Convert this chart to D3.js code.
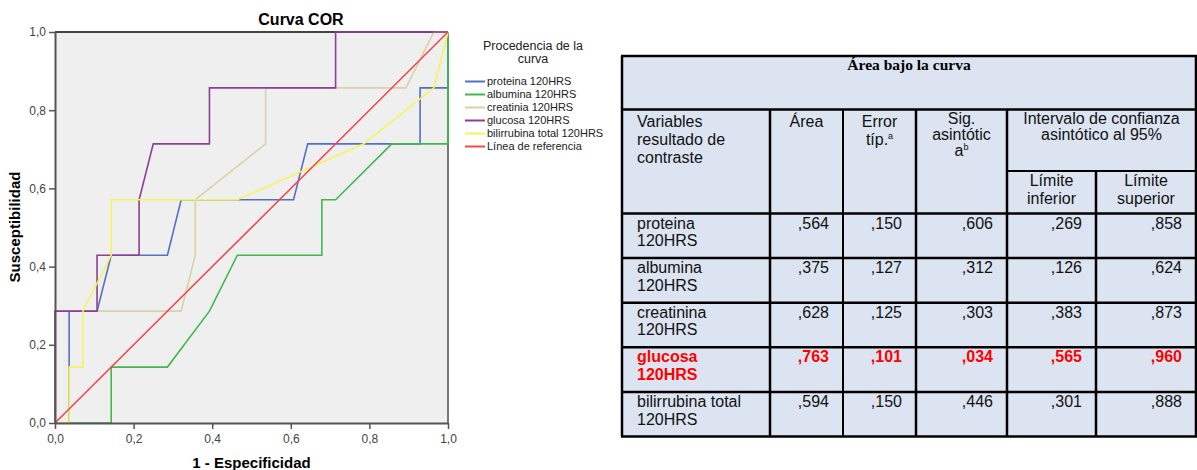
<!DOCTYPE html>
<html>
<head>
  <meta charset="utf-8">
  <script src="https://cdn.jsdelivr.net/npm/d3@7"></script>
  <style>
    body { margin: 0; background: #fff; }
    text { font-family: "Liberation Sans", Arial, sans-serif; }
  </style>
</head>
<body>
<div id="chart"></div>
<script>
  // ROC curves, points are [1 - especificidad, susceptibilidad]
  var seriesNames = ["proteina 120HRS", "albumina 120HRS", "creatinia 120HRS",
                     "glucosa 120HRS", "bilirrubina total 120HRS"];
  var seriesColors = ["#5470c6", "#41b94c", "#d8d2a6", "#8c3f94", "#f6f35c"];
  var refName = "Línea de referencia";
  var refColor = "#ef4a4f";

  var proteina = [[0, 0], [0.036, 0], [0.036, 0.286], [0.107, 0.286], [0.143, 0.429],
    [0.286, 0.429], [0.321, 0.571], [0.607, 0.571], [0.643, 0.714], [0.929, 0.714],
    [0.929, 0.857], [1, 0.857], [1, 1]];
  var albumina = [[0, 0], [0.143, 0], [0.143, 0.143], [0.286, 0.143], [0.393, 0.286],
    [0.464, 0.429], [0.679, 0.429], [0.679, 0.571], [0.714, 0.571], [0.857, 0.714],
    [1, 0.714], [1, 1]];
  var creatinina = [[0, 0], [0, 0.286], [0.321, 0.286], [0.357, 0.429], [0.357, 0.571],
    [0.536, 0.714], [0.536, 0.857], [0.893, 0.857], [0.964, 1], [1, 1]];
  var glucosa = [[0, 0], [0, 0.286], [0.107, 0.286], [0.107, 0.429], [0.214, 0.429],
    [0.214, 0.571], [0.25, 0.714], [0.393, 0.714], [0.393, 0.857], [0.714, 0.857],
    [0.714, 1], [1, 1]];
  var bilirrubina = [[0, 0], [0.036, 0], [0.036, 0.143], [0.071, 0.143], [0.071, 0.286],
    [0.143, 0.429], [0.143, 0.571], [0.464, 0.571], [0.786, 0.714], [0.964, 0.857], [1, 1]];
  var referencia = [[0, 0], [1, 1]];

  var tickValues = [0, 0.2, 0.4, 0.6, 0.8, 1];

  // table "Área bajo la curva"
  var tableRows = ["proteina 120HRS", "albumina 120HRS", "creatinina 120HRS",
                   "glucosa 120HRS", "bilirrubina total 120HRS"];
  var area = [",564", ",375", ",628", ",763", ",594"];
  var errorTip = [",150", ",127", ",125", ",101", ",150"];
  var sigAsint = [",606", ",312", ",303", ",034", ",446"];
  var limInf = [",269", ",126", ",383", ",565", ",301"];
  var limSup = [",858", ",624", ",873", ",960", ",888"];
  var highlightRow = 3;

  var W = 1197, H = 470;
  var svg = d3.select("#chart").append("svg")
      .attr("width", W)
      .attr("height", H);

  // ---------- chart ----------
  var x = d3.scaleLinear().domain([0, 1]).range([55, 448]);
  var y = d3.scaleLinear().domain([0, 1]).range([423, 32]);
  var fmt = function(d) { return d3.format(".1f")(d).replace(".", ","); };

  svg.append("rect")
      .attr("x", x(0)).attr("y", y(1))
      .attr("width", x(1) - x(0)).attr("height", y(0) - y(1))
      .attr("fill", "#efefef");

  // frame top / right
  svg.append("line")
      .attr("x1", x(0)).attr("x2", x(1)).attr("y1", y(1)).attr("y2", y(1))
      .attr("stroke", "#444").attr("stroke-width", 2);
  svg.append("line")
      .attr("x1", x(1)).attr("x2", x(1)).attr("y1", y(1)).attr("y2", y(0))
      .attr("stroke", "#777").attr("stroke-width", 2);

  var line = d3.line().x(function(d) { return x(d[0]); }).y(function(d) { return y(d[1]); });
  var curves = [proteina, albumina, creatinina, glucosa, bilirrubina];

  svg.selectAll("path.curve").data(curves)
    .enter().append("path")
      .attr("class", "curve")
      .attr("d", line)
      .attr("fill", "none")
      .attr("stroke", function(d, i) { return seriesColors[i]; })
      .attr("stroke-width", 1.6);

  svg.append("path")
      .attr("d", line(referencia))
      .attr("fill", "none")
      .attr("stroke", refColor)
      .attr("stroke-width", 1.6);

  var xAxis = svg.append("g")
      .attr("transform", "translate(0," + y(0) + ")")
      .call(d3.axisBottom(x).tickValues(tickValues).tickFormat(fmt).tickSize(6).tickSizeOuter(0));
  var yAxis = svg.append("g")
      .attr("transform", "translate(" + x(0) + ",0)")
      .call(d3.axisLeft(y).tickValues(tickValues).tickFormat(fmt).tickSize(6).tickSizeOuter(0));

  [xAxis, yAxis].forEach(function(a) {
    a.select(".domain").attr("stroke", "#555").attr("stroke-width", 2);
    a.selectAll(".tick line").attr("stroke", "#555").attr("stroke-width", 1.5);
    a.selectAll(".tick text")
        .attr("fill", "#444")
        .style("font-size", "12px")
        .style("font-family", "'Liberation Sans', Arial, sans-serif");
  });
  xAxis.selectAll(".tick text").attr("dy", "0.9em");

  svg.append("text")
      .attr("x", 301).attr("y", 25)
      .attr("text-anchor", "middle")
      .style("font-weight", "bold").style("font-size", "16px")
      .text("Curva COR");

  svg.append("text")
      .attr("x", (x(0) + x(1)) / 2).attr("y", 468)
      .attr("text-anchor", "middle")
      .style("font-weight", "bold").style("font-size", "15px")
      .text("1 - Especificidad");

  svg.append("text")
      .attr("transform", "translate(20,227) rotate(-90)")
      .attr("text-anchor", "middle")
      .style("font-weight", "bold").style("font-size", "15px")
      .text("Susceptibilidad");

  // legend
  var legend = svg.append("g");
  legend.selectAll("text.ltitle").data(["Procedencia de la", "curva"])
    .enter().append("text")
      .attr("x", 533)
      .attr("y", function(d, i) { return 50 + i * 13; })
      .attr("text-anchor", "middle")
      .attr("fill", "#222")
      .style("font-size", "12.5px")
      .text(function(d) { return d; });

  var legendItems = seriesNames.map(function(n, i) { return { name: n, color: seriesColors[i] }; })
      .concat([{ name: refName, color: refColor }]);
  var li = legend.selectAll("g.item").data(legendItems)
    .enter().append("g")
      .attr("transform", function(d, i) { return "translate(465," + (81.5 + i * 13) + ")"; });
  li.append("line")
      .attr("x1", 0).attr("x2", 20)
      .attr("stroke", function(d) { return d.color; })
      .attr("stroke-width", 2);
  li.append("text")
      .attr("x", 22).attr("dy", "0.35em")
      .attr("fill", "#222")
      .style("font-size", "11px")
      .text(function(d) { return d.name; });

  // ---------- table ----------
  var colX = [622, 770, 843, 916, 1007, 1096, 1196];
  var mid = function(a, b) { return (colX[a] + colX[b]) / 2; };
  var tTop = 56, titleBottom = 109.5, subLine = 171, headBottom = 213.5, rowH = 44.6;
  var tBottom = headBottom + rowH * tableRows.length;
  var fs = "16px";
  var tbl = svg.append("g");

  tbl.append("rect")
      .attr("x", colX[0]).attr("y", tTop)
      .attr("width", colX[6] - colX[0]).attr("height", tBottom - tTop)
      .attr("fill", "#dbe4f0");

  var hl = function(x1, x2, yy, w) {
    tbl.append("line").attr("x1", x1).attr("x2", x2).attr("y1", yy).attr("y2", yy)
        .attr("stroke", "#000").attr("stroke-width", w);
  };
  var vl = function(xx, y1, y2, w) {
    tbl.append("line").attr("x1", xx).attr("x2", xx).attr("y1", y1).attr("y2", y2)
        .attr("stroke", "#000").attr("stroke-width", w);
  };

  hl(colX[0] - 1, colX[6] + 1, tTop, 2.5);
  hl(colX[0], colX[6], titleBottom, 2.5);
  hl(colX[4], colX[6], subLine, 2);
  hl(colX[0], colX[6], headBottom, 2.5);
  tableRows.forEach(function(r, i) {
    if (i > 0) hl(colX[0], colX[6], headBottom + rowH * i, 2.5);
  });
  hl(colX[0] - 1, colX[6] + 1, tBottom, 2.5);
  vl(colX[0], tTop, tBottom, 2.5);
  vl(colX[6], tTop, tBottom, 2.5);
  vl(colX[1], titleBottom, tBottom, 2.5);
  vl(colX[2], titleBottom, tBottom, 2);
  vl(colX[3], titleBottom, tBottom, 2.5);
  vl(colX[4], titleBottom, tBottom, 2.5);
  vl(colX[5], subLine, tBottom, 2.5);

  tbl.append("text")
      .attr("x", mid(0, 6)).attr("y", 70)
      .attr("text-anchor", "middle")
      .style("font-family", "'Liberation Serif', 'Times New Roman', serif")
      .style("font-weight", "bold").style("font-size", "15.5px")
      .text("Área bajo la curva");

  var headers = [
    { lines: ["Variables", "resultado de", "contraste"], x: 637, y: 127, dy: 17.8, anchor: "start" },
    { lines: ["Área"], x: mid(1, 2), y: 127, dy: 17.8, anchor: "middle" },
    { lines: ["Error", "típ.|a"], x: mid(2, 3), y: 127, dy: 17.5, anchor: "middle" },
    { lines: ["Sig.", "asintótic", "a|b"], x: mid(3, 4), y: 124, dy: 16, anchor: "middle" },
    { lines: ["Intervalo de confianza", "asintótico al 95%"], x: mid(4, 6), y: 124, dy: 15.5, anchor: "middle" },
    { lines: ["Límite", "inferior"], x: mid(4, 5), y: 186, dy: 17.5, anchor: "middle" },
    { lines: ["Límite", "superior"], x: mid(5, 6), y: 186, dy: 17.5, anchor: "middle" }
  ];
  headers.forEach(function(h) {
    h.lines.forEach(function(l, i) {
      var parts = l.split("|");
      var t = tbl.append("text")
          .attr("x", h.x).attr("y", h.y + i * h.dy)
          .attr("text-anchor", h.anchor)
          .attr("fill", "#111")
          .style("font-size", fs);
      t.append("tspan").text(parts[0]);
      if (parts[1]) {
        t.append("tspan").attr("dy", -6).style("font-size", "9px").text(parts[1]);
      }
    });
  });

  var cols = [area, errorTip, sigAsint, limInf, limSup];
  tableRows.forEach(function(r, i) {
    var ry = headBottom + rowH * i;
    var hi = i === highlightRow;
    var words = r.split(" ");
    var first = words.slice(0, -1).join(" "), second = words[words.length - 1];
    [first, second].forEach(function(l, k) {
      tbl.append("text")
          .attr("x", 637).attr("y", ry + 15 + k * 17.7)
          .attr("fill", hi ? "#ff0000" : "#111")
          .style("font-size", fs)
          .style("font-weight", hi ? "bold" : "normal")
          .text(l);
    });
    cols.forEach(function(c, j) {
      tbl.append("text")
          .attr("x", colX[j + 2] - 14).attr("y", ry + 15)
          .attr("text-anchor", "end")
          .attr("fill", hi ? "#ff0000" : "#111")
          .style("font-size", fs)
          .style("font-weight", hi ? "bold" : "normal")
          .text(c[i]);
    });
  });
</script>
</body>
</html>
